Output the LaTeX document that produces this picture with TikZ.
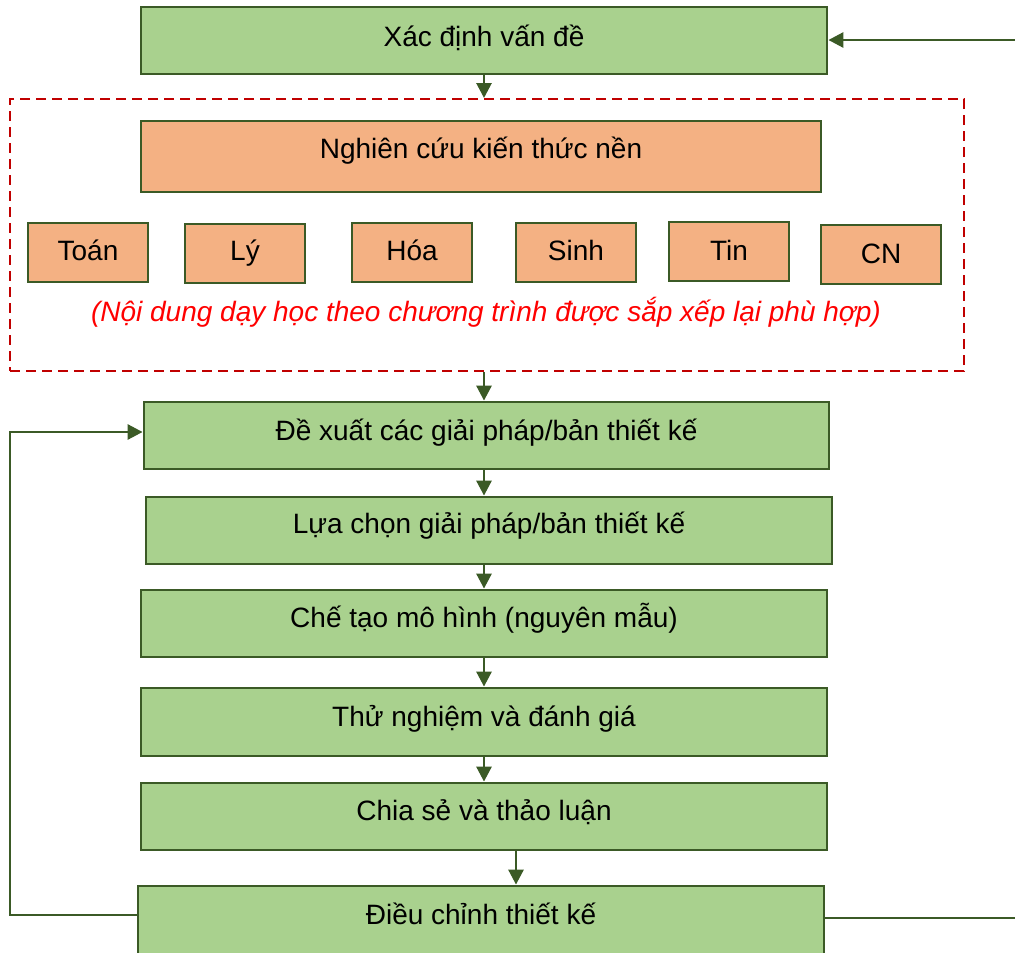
\documentclass[tikz,border=0pt]{standalone}
\usepackage{fontspec}
\setmainfont{Liberation Sans}
\usetikzlibrary{arrows.meta}
\definecolor{gfill}{HTML}{A9D18E}
\definecolor{gline}{HTML}{3B5A26}
\definecolor{ofill}{HTML}{F4B183}
\definecolor{dred}{HTML}{C00000}
\newcommand\liftup[2]{\raisebox{#1}[\height][\depth]{#2}}
\begin{document}
\begin{tikzpicture}[x=1pt,y=-1pt,
 box/.style={draw=gline,line width=2.8pt,inner sep=0pt,font=\fontsize{28}{32}\selectfont},
 gbox/.style={box,fill=gfill,minimum width=686pt,minimum height=67pt},
 obox/.style={box,fill=ofill},
 sbox/.style={obox,minimum width=120pt,minimum height=59pt},
 conn/.style={draw=gline,line width=2.8pt},
 arr/.style={conn,-{Triangle[length=15pt,width=15pt]}},
 grpbox/.style={draw=dred,dash pattern=on 10pt off 6pt,line width=2pt,inner sep=0pt},
 notetext/.style={text=red,font=\itshape\fontsize{28}{32}\selectfont,inner sep=0pt},
]
\useasboundingbox (0,0) rectangle (1015,953);
\clip (0,0) rectangle (1015,953);

\node[gbox] (c1) at (484,40.5) {\liftup{3pt}{Xác định vấn đề}};

\node[grpbox,minimum width=954pt,minimum height=272pt] (grp) at (487,235) {};
\node[obox,minimum width=680pt,minimum height=71pt] (kt) at (481,156.5) {\liftup{6pt}{Nghiên cứu kiến thức nền}};
\node[sbox] (toan) at (88,252.5) {\liftup{2pt}{Toán}};
\node[sbox] (ly) at (245,253.5) {\liftup{0pt}{Lý}};
\node[sbox] (hoa) at (412,252.5) {\liftup{2pt}{Hóa}};
\node[sbox] (sinh) at (576,252.5) {\liftup{2pt}{Sinh}};
\node[sbox] (tin) at (729,251.5) {\liftup{1pt}{Tin}};
\node[sbox] (cn) at (881,254.5) {\liftup{1pt}{CN}};
\node[notetext] (note) at (486,312) {(Nội dung dạy học theo chương trình được sắp xếp lại phù hợp)};

\node[gbox,minimum width=685pt] (c3) at (486.5,435.5) {\liftup{3pt}{Đề xuất các giải pháp/bản thiết kế}};
\node[gbox] (c4) at (489,530.5) {\liftup{5pt}{Lựa chọn giải pháp/bản thiết kế}};
\node[gbox] (c5) at (484,623.5) {\liftup{5pt}{Chế tạo mô hình (nguyên mẫu)}};
\node[gbox,minimum height=68pt] (c6) at (484,722) {\liftup{3pt}{Thử nghiệm và đánh giá}};
\node[gbox] (c7) at (484,816.5) {\liftup{4pt}{Chia sẻ và thảo luận}};
\node[gbox,minimum height=90pt] (c8) at (481,931) {\liftup{17pt}{Điều chỉnh thiết kế}};

\draw[arr] (c1.south) -- (c1.south |- grp.north);
\draw[arr] (c1.south |- grp.south) -- (c1.south |- c3.north);
\draw[arr] (c5.north |- c3.south) -- (c5.north |- c4.north);
\draw[arr] (c4.south -| c5.north) -- (c5.north);
\draw[arr] (c5.south) -- (c6.north);
\draw[arr] (c6.south) -- (c7.north);
\draw[arr] ([xshift=32pt]c7.south) -- ([xshift=32pt]c7.south |- c8.north);

\coordinate (lft) at (10,915);
\draw[arr] (c8.west |- lft) -- (lft) |- ([yshift=3.5pt]c3.west);
\coordinate (rb) at (1015,918);
\draw[conn] (c8.east |- rb) -- (rb);
\coordinate (rt) at (1015,40);
\draw[arr] (rt) -- (c1.east |- rt);
\end{tikzpicture}
\end{document}
